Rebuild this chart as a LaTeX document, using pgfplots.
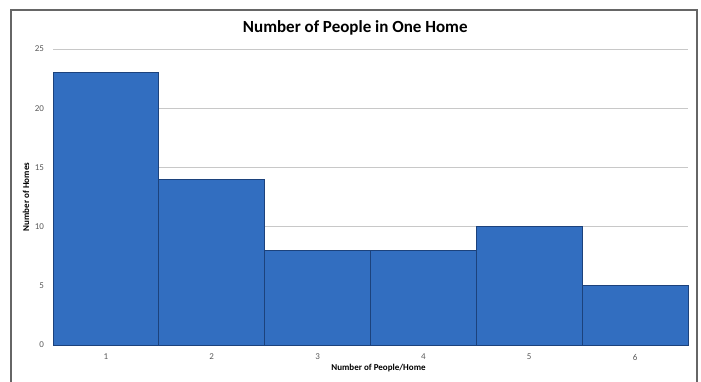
\documentclass[border=0pt]{standalone}
\usepackage{pgfplots}
\pgfplotsset{compat=1.18}
\usepackage{fontspec}
\setmainfont{Carlito}
\definecolor{barfill}{RGB}{50,110,192}
\definecolor{baredge}{RGB}{28,66,124}
\definecolor{gridgray}{RGB}{200,200,200}
\definecolor{ticktext}{RGB}{90,90,90}
\begin{document}
\begin{tikzpicture}
\useasboundingbox (0,0) rectangle (350.5pt,190.5pt);
% outer chart frame
\draw[gray!80!black, line width=0.6pt] (5.5pt,-5pt) -- (5.5pt,185.5pt) -- (348.5pt,185.5pt) -- (348.5pt,-5pt);
\begin{axis}[
  at={(26.5pt,18pt)}, anchor=south west,
  scale only axis, width=317.5pt, height=148pt,
  xmin=0.5, xmax=6.5, ymin=0, ymax=25,
  ytick={0,5,...,25}, xtick={1,...,6},
  ymajorgrids, grid style={gridgray, line width=0.5pt},
  axis x line*=bottom, axis y line*=left,
  x axis line style={gridgray, -},
  y axis line style={draw=none},
  major tick length=2pt,
  xtick style={draw=none},
  ytick style={gridgray},
  tick label style={font=\fontsize{4.5}{5}\selectfont, text=ticktext},
  /pgf/number format/assume math mode=true,
  xticklabel style={yshift=1pt},
  yticklabel style={xshift=-1pt},
  xlabel={\bfseries Number of People/Home},
  xlabel style={font=\fontsize{4.5}{5}\selectfont, yshift=5pt, xshift=4pt},
  ylabel={\bfseries Number of Homes},
  ylabel style={font=\fontsize{4.5}{5}\selectfont, yshift=-4pt},
  ybar, bar width=1, bar shift=0pt,
  clip=false,
]
\addplot[fill=barfill, draw=baredge, line width=0.5pt]
  coordinates {(1,23) (2,14) (3,8) (4,8) (5,10) (6,5)};
\node[font=\fontsize{8.5}{10}\selectfont\bfseries, anchor=center]
  at (rel axis cs:0.476,1) [yshift=10.5pt] {Number of People in One Home};
\end{axis}
\end{tikzpicture}
\end{document}
